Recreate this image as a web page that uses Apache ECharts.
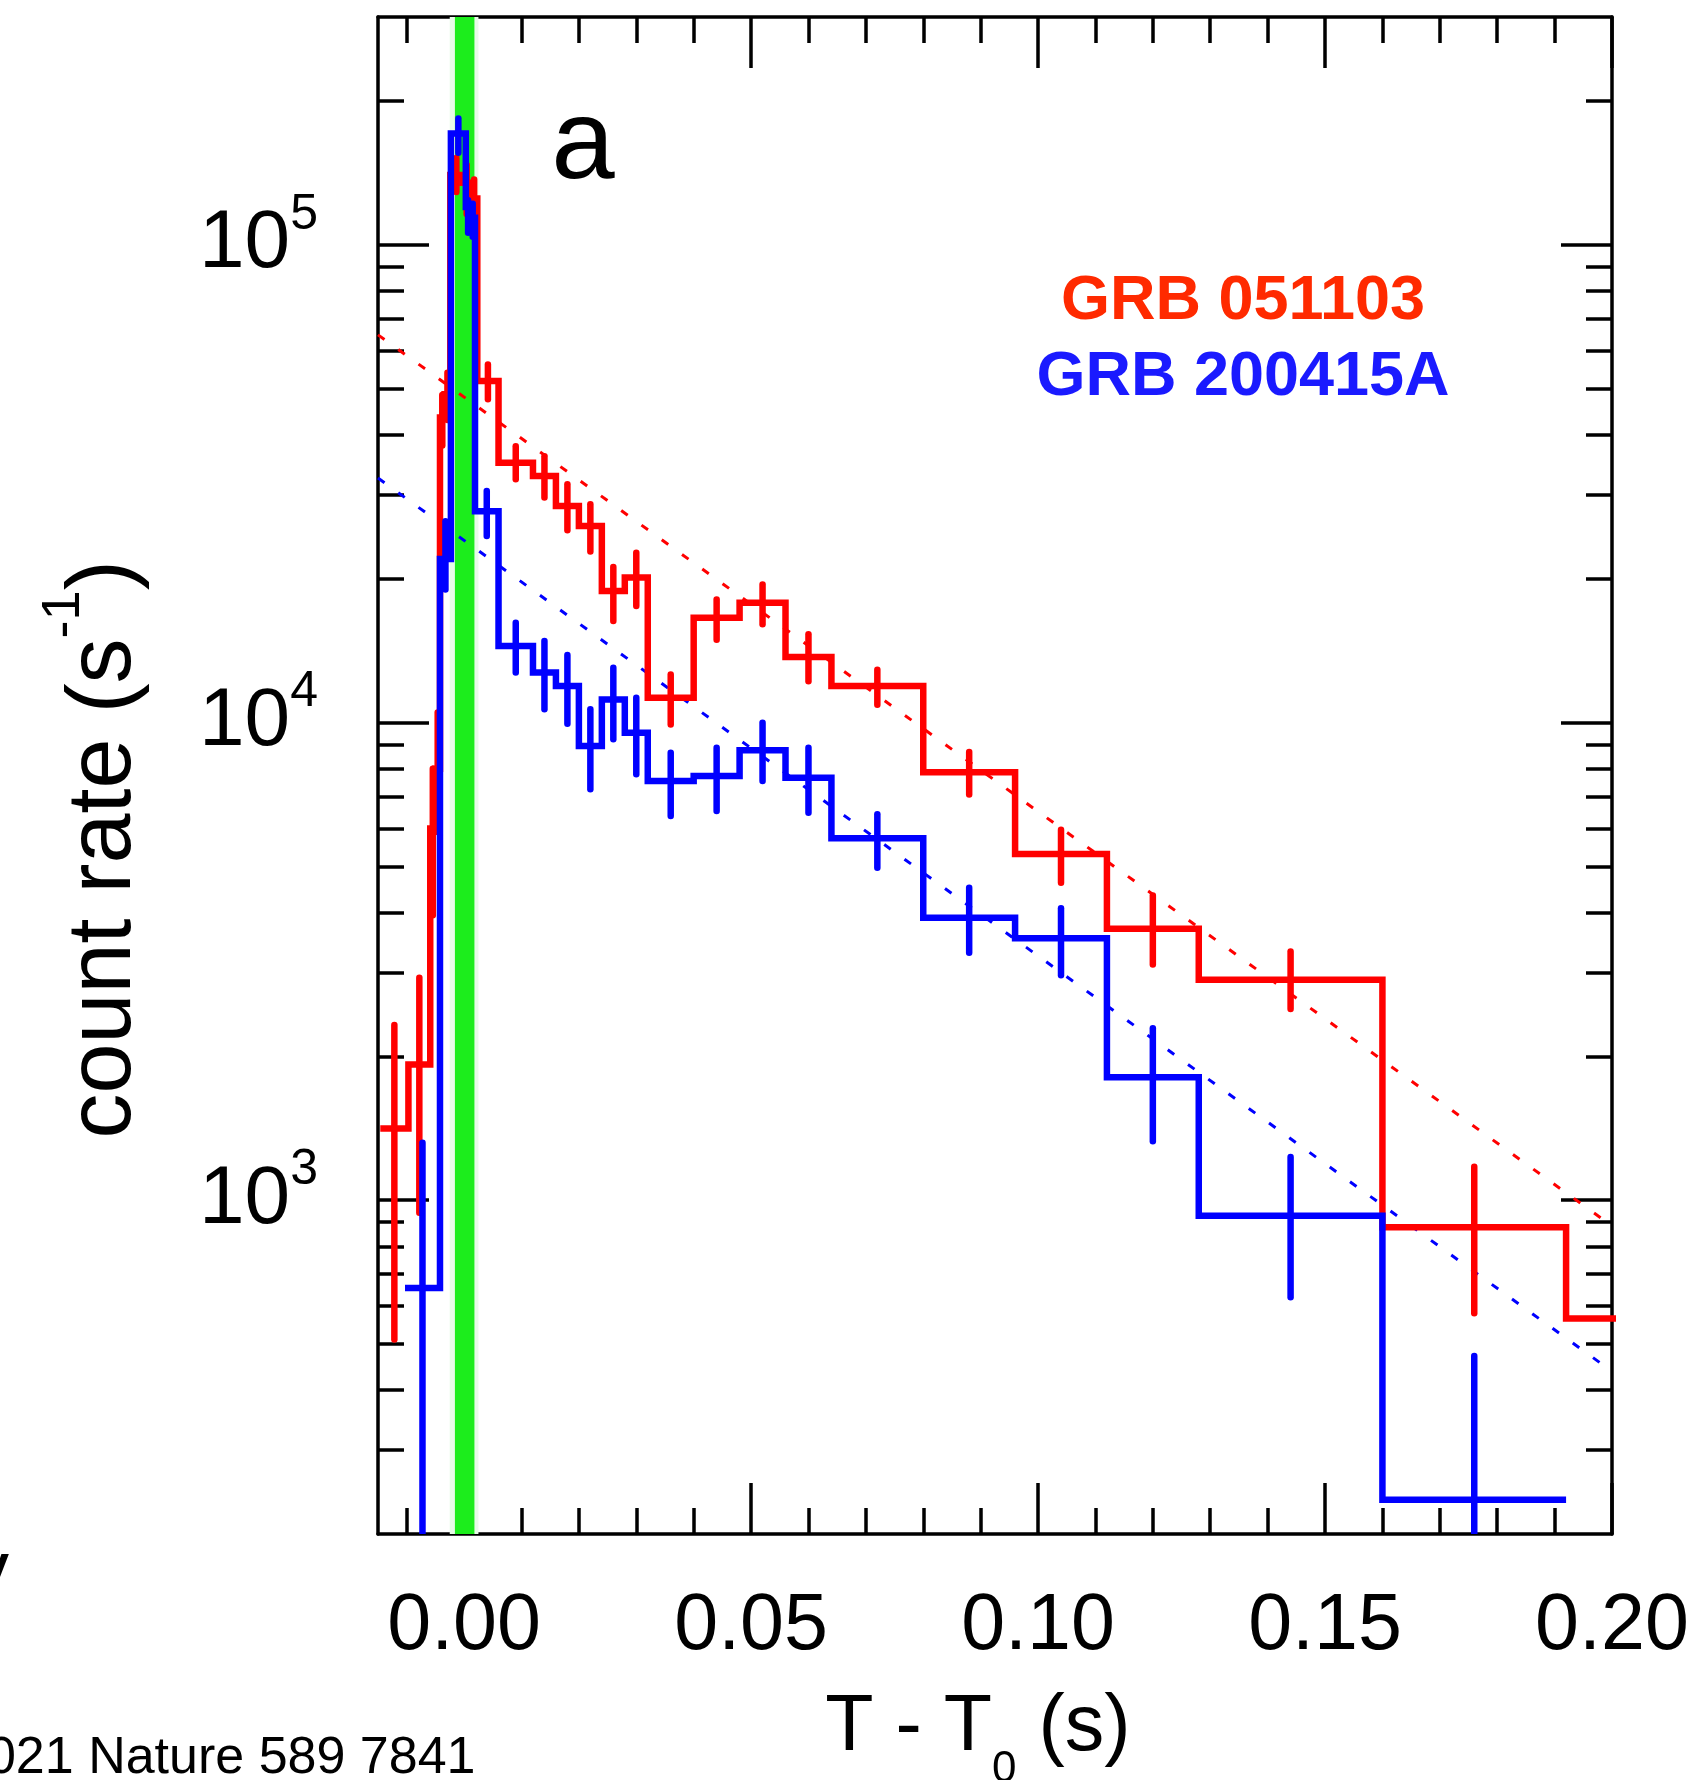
<!DOCTYPE html>
<html><head><meta charset="utf-8">
<script src="https://cdn.jsdelivr.net/npm/echarts@6/dist/echarts.min.js"></script>
<style>html,body{margin:0;padding:0;background:#fff}#c{width:1705px;height:1780px}</style>
</head><body><div id="c"></div>
<script>
const FONT = '"Liberation Sans", Arial, Helvetica, sans-serif';

// axis ranges and ticks
const xMin = -0.015, xMax = 0.2, yMin = 200, yMax = 300000;
const xMajorTicks = [0, 0.05, 0.10, 0.15, 0.20];
const xMinorTicks = [-0.01, 0.01, 0.02, 0.03, 0.04, 0.06, 0.07, 0.08, 0.09, 0.11, 0.12, 0.13, 0.14, 0.16, 0.17, 0.18, 0.19];
const yMajorTicks = [1000, 10000, 100000];
const yMinorTicks = [300, 400, 500, 600, 700, 800, 900, 2000, 3000, 4000, 5000, 6000, 7000, 8000, 9000,
  20000, 30000, 40000, 50000, 60000, 70000, 80000, 90000, 200000];

// GRB 051103 (red)
const redEdges = [-0.0146, -0.0097, -0.0059, -0.0050, -0.0042, -0.0034, -0.0024, -0.0003, 0.0012, 0.0023,
  0.006, 0.012, 0.016, 0.020, 0.024, 0.028, 0.032, 0.040, 0.048, 0.056, 0.064, 0.080, 0.096, 0.112, 0.128, 0.160, 0.192, 0.224];
const redRate = [1413, 1923, 6000, 8000, 43500, 48700, 140000, 135000, 125000, 51900,
  35000, 32800, 28400, 25790, 18860, 20110, 11270, 16580, 17820, 13710, 11920, 7870, 5306, 3701, 2894, 878, 565];
const redErrLo = [511, 941, 3950, 5900, 38000, 43000, 129000, 116000, 117000, 47500,
  32300, 29600, 25260, 22800, 16320, 17540, 9900, 14900, 16060, 12200, 10900, 7070, 4620, 3116, 2512, 580, 430];
const redErrHi = [2326, 2921, 8000, 10500, 48500, 54000, 152000, 147000, 137000, 56200,
  37900, 36100, 31530, 28640, 21170, 22680, 12600, 18100, 19460, 15300, 12900, 8680, 5963, 4343, 3314, 1175, 720];

// GRB 200415A (blue)
const blueEdges = [-0.0103, -0.0042, -0.0023, 0.0003, 0.0011, 0.0019, 0.006, 0.012, 0.016, 0.020, 0.024, 0.028,
  0.032, 0.040, 0.048, 0.056, 0.064, 0.080, 0.096, 0.112, 0.128, 0.160, 0.192];
const blueRate = [655, 22000, 171000, 120000, 114000, 27700, 14460, 12720, 11930, 8930, 11180, 9522,
  7543, 7727, 8744, 7665, 5722, 3900, 3536, 1809, 928, 236];
const blueErrLo = [100, 19000, 156000, 106000, 104000, 24580, 12720, 10660, 9940, 7246, 9222, 7790,
  6372, 6528, 7543, 6473, 4966, 3296, 2956, 1329, 626, 100];
const blueErrHi = [1318, 26400, 184000, 124000, 122000, 30540, 16180, 14820, 13850, 10660, 13025, 11270,
  8645, 8857, 9990, 8857, 6423, 4508, 4085, 2291, 1231, 472];

// exponential fits (straight on log axis)
const redFit = [[-0.015, 64800], [0.2, 883]];
const blueFit = [[-0.015, 32500], [0.2, 438]];

// T0 band
const paleBand = [-0.0025, 0.0025];
const greenBand = [-0.0016, 0.0018];

const RED = '#ff0000', BLUE = '#0000ff';
const LW = 6.5;

function stepPoints(edges, vals) {
  const pts = [];
  for (let i = 0; i < vals.length; i++) {
    pts.push([edges[i], vals[i]]);
    pts.push([edges[i + 1], vals[i]]);
  }
  return pts;
}
function errPoints(edges, lo, hi) {
  return lo.map((l, i) => [(edges[i] + edges[i + 1]) / 2, l, hi[i]]);
}
function errRender(color) {
  return function (params, api) {
    const xc = api.value(0);
    if (xc < xMin || xc > xMax) return null;
    const lo = Math.max(api.value(1), yMin), hi = Math.min(api.value(2), yMax);
    const a = api.coord([xc, lo]), b = api.coord([xc, hi]);
    return { type: 'line', shape: { x1: a[0], y1: a[1], x2: b[0], y2: b[1] },
      style: { stroke: color, lineWidth: LW, lineCap: 'round' } };
  };
}

const tickLine = { color: '#000', width: 3.5 };
function xAx(pos, major, label) {
  return {
    type: 'value', min: xMin, max: xMax, position: pos,
    axisLine: { show: major, onZero: false, lineStyle: { color: '#000', width: 3.5 } },
    axisTick: { show: true, inside: true, length: major ? 51 : 26, customValues: major ? xMajorTicks : xMinorTicks, lineStyle: tickLine },
    axisLabel: label ? { show: true, customValues: xMajorTicks, formatter: v => v.toFixed(2), fontSize: 79, fontFamily: FONT, color: '#000', margin: 54, showMaxLabel: true, showMinLabel: true } : { show: false },
    splitLine: { show: false }
  };
}
function yAx(pos, major, label) {
  return {
    type: 'log', logBase: 10, min: yMin, max: yMax, position: pos,
    axisLine: { show: major, onZero: false, lineStyle: { color: '#000', width: 3.5 } },
    axisTick: { show: true, inside: true, length: major ? 51 : 26, customValues: major ? yMajorTicks : yMinorTicks, lineStyle: tickLine },
    axisLabel: label ? {
      show: true, customValues: yMajorTicks, margin: 60,
      formatter: v => '{b|10}{s|' + Math.round(Math.log10(v)) + '}',
      rich: {
        b: { fontSize: 82, lineHeight: 110, fontFamily: FONT, color: '#000' },
        s: { fontSize: 50, lineHeight: 50, verticalAlign: 'top', fontFamily: FONT, color: '#000' }
      }
    } : { show: false },
    splitLine: { show: false }, minorSplitLine: { show: false }
  };
}

const chart = echarts.init(document.getElementById('c'), null, { renderer: 'canvas' });
chart.setOption({
  animation: false,
  backgroundColor: '#ffffff',
  grid: { left: 378, right: 93, top: 17, bottom: 246, containLabel: false, outerBoundsMode: 'none' },
  xAxis: [xAx('bottom', true, true), xAx('bottom', false, false), xAx('top', true, false), xAx('top', false, false)],
  yAxis: [yAx('left', true, true), yAx('left', false, false), yAx('right', true, false), yAx('right', false, false)],
  series: [
    {
      type: 'custom', name: 'T0 band', z: 1, clip: true,
      data: [[paleBand[0], paleBand[1], 0], [greenBand[0], greenBand[1], 1]],
      encode: { x: [0, 1] },
      renderItem: function (params, api) {
        const p0 = api.coord([api.value(0), yMax]);
        const p1 = api.coord([api.value(1), yMin]);
        return { type: 'rect', shape: { x: p0[0], y: p0[1], width: p1[0] - p0[0], height: p1[1] - p0[1] },
          style: { fill: api.value(2) ? '#1ced1c' : '#e8fbe8' } };
      }
    },
    { type: 'line', name: 'red fit', z: 2, data: redFit, symbol: 'none', silent: true,
      lineStyle: { color: RED, width: 3, type: [8, 17] } },
    { type: 'line', name: 'blue fit', z: 2, data: blueFit, symbol: 'none', silent: true,
      lineStyle: { color: BLUE, width: 3, type: [8, 17] } },
    { type: 'line', name: 'GRB 051103', z: 3, data: stepPoints(redEdges, redRate), symbol: 'none',
      lineStyle: { color: RED, width: LW, join: 'miter' } },
    { type: 'custom', name: 'GRB 051103 err', z: 3, clip: true, data: errPoints(redEdges, redErrLo, redErrHi),
      encode: { x: 0, y: [1, 2] }, renderItem: errRender(RED) },
    { type: 'line', name: 'GRB 200415A', z: 4, data: stepPoints(blueEdges, blueRate), symbol: 'none',
      lineStyle: { color: BLUE, width: LW, join: 'miter' } },
    { type: 'custom', name: 'GRB 200415A err', z: 4, clip: true, data: errPoints(blueEdges, blueErrLo, blueErrHi),
      encode: { x: 0, y: [1, 2] }, renderItem: errRender(BLUE) }
  ],
  graphic: [
    { type: 'text', x: 105, y: 849.5, rotation: Math.PI / 2, z: 100,
      style: { text: '{t|count rate (s}{p|-1}{t|)}', align: 'center', verticalAlign: 'middle',
        rich: { t: { fontSize: 90, lineHeight: 136, fontFamily: FONT, fill: '#000' },
                p: { fontSize: 54, lineHeight: 54, verticalAlign: 'top', fontFamily: FONT, fill: '#000' } } } },
    { type: 'text', x: 978, y: 1728.5, z: 100,
      style: { text: '{t|T - T}{u|0}{t| (s)}', align: 'center', verticalAlign: 'middle',
        rich: { t: { fontSize: 79, lineHeight: 126, fontFamily: FONT, fill: '#000' },
                u: { fontSize: 44, lineHeight: 44, verticalAlign: 'bottom', fontFamily: FONT, fill: '#000' } } } },
    { type: 'text', x: 583, y: 146.5, z: 100,
      style: { text: 'a', fontSize: 114, fontFamily: FONT, fill: '#000', align: 'center', verticalAlign: 'middle' } },
    { type: 'text', x: 1243, y: 301.7, z: 100,
      style: { text: 'GRB 051103', fontSize: 63, fontWeight: 'bold', fontFamily: FONT, fill: '#ff2a00', align: 'center', verticalAlign: 'middle' } },
    { type: 'text', x: 1243, y: 377.8, z: 100,
      style: { text: 'GRB 200415A', fontSize: 63, fontWeight: 'bold', fontFamily: FONT, fill: '#1a1aff', align: 'center', verticalAlign: 'middle' } },
    { type: 'text', x: -42, y: 1758.7, z: 100,
      style: { text: '2021 Nature 589 7841', fontSize: 52, fontFamily: FONT, fill: '#000', align: 'left', verticalAlign: 'middle' } },
    { type: 'text', x: -31, y: 1574, z: 100,
      style: { text: 'y', fontSize: 80, fontFamily: FONT, fill: '#000', align: 'left', verticalAlign: 'middle' } }
  ]
});
</script></body></html>
